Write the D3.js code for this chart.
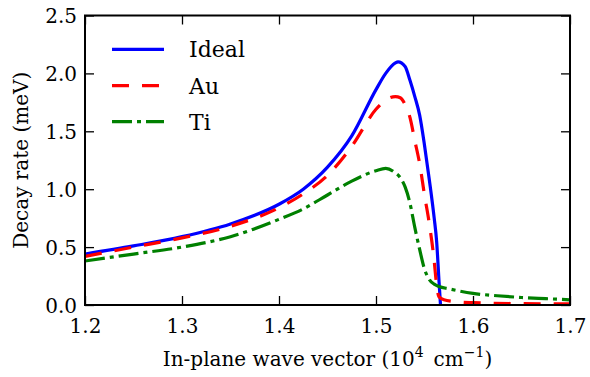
<!DOCTYPE html>
<html>
<head>
<meta charset="utf-8">
<script src="https://cdn.jsdelivr.net/npm/d3@7"></script>
<style>
  body { margin: 0; background: #fff; }
  svg { display: block; }
</style>
</head>
<body>
<svg id="chart" width="590" height="377"></svg>
<script>
// Decay rate vs in-plane wave vector for three metal cases
const idealK = [1.20, 1.25, 1.30, 1.35, 1.40, 1.425, 1.45, 1.475, 1.50, 1.51, 1.52, 1.5227, 1.53, 1.535, 1.54, 1.545, 1.55, 1.555, 1.56, 1.5625, 1.565, 1.5665];
const idealV = [0.44, 0.51, 0.59, 0.70, 0.87, 1.00, 1.19, 1.46, 1.86, 2.00, 2.09, 2.10, 2.06, 1.94, 1.80, 1.64, 1.38, 1.08, 0.75, 0.55, 0.20, 0.0];

const auK = [1.20, 1.25, 1.30, 1.35, 1.40, 1.425, 1.45, 1.475, 1.50, 1.51, 1.52, 1.525, 1.53, 1.535, 1.54, 1.545, 1.55, 1.555, 1.56, 1.5625, 1.565, 1.57, 1.58, 1.60, 1.65, 1.70];
const auV = [0.42, 0.50, 0.58, 0.68, 0.84, 0.96, 1.12, 1.37, 1.69, 1.77, 1.80, 1.79, 1.73, 1.62, 1.42, 1.22, 0.95, 0.70, 0.38, 0.17, 0.07, 0.045, 0.03, 0.02, 0.012, 0.01];

const tiK = [1.20, 1.25, 1.30, 1.35, 1.40, 1.425, 1.45, 1.475, 1.50, 1.51, 1.52, 1.525, 1.53, 1.535, 1.54, 1.545, 1.55, 1.555, 1.56, 1.565, 1.575, 1.60, 1.625, 1.65, 1.675, 1.70];
const tiV = [0.38, 0.44, 0.50, 0.59, 0.74, 0.83, 0.95, 1.07, 1.16, 1.18, 1.14, 1.10, 1.02, 0.88, 0.67, 0.48, 0.31, 0.22, 0.18, 0.16, 0.14, 0.10, 0.08, 0.065, 0.055, 0.045];

const seriesNames = ["Ideal", "Au", "Ti"];
const xTicks = [1.2, 1.3, 1.4, 1.5, 1.6, 1.7];
const yTicks = [0.0, 0.5, 1.0, 1.5, 2.0, 2.5];

const series = [
  { name: seriesNames[0], k: idealK, v: idealV, color: "#0000ff", dash: null },
  { name: seriesNames[1], k: auK, v: auV, color: "#ff0000", dash: "17,13" },
  { name: seriesNames[2], k: tiK, v: tiV, color: "#008000", dash: "20,5,4,5" }
];

const FONT = "'DejaVu Serif', 'Liberation Serif', serif";

const svg = d3.select("#chart");
const L = 85, R = 570, T = 15.5, B = 305;

const x = d3.scaleLinear().domain([1.2, 1.7]).range([L, R]);
const y = d3.scaleLinear().domain([0, 2.5]).range([B, T]);

svg.append("defs").append("clipPath").attr("id", "plotClip")
  .append("rect").attr("x", L).attr("y", T).attr("width", R - L).attr("height", B - T);

const line = d3.line()
  .x(d => x(d[0]))
  .y(d => y(d[1]))
  .curve(d3.curveMonotoneX);

const plot = svg.append("g").attr("clip-path", "url(#plotClip)");
series.forEach(s => {
  const pts = s.k.map((k, i) => [k, s.v[i]]);
  plot.append("path")
    .datum(pts)
    .attr("d", line)
    .attr("fill", "none")
    .attr("stroke", s.color)
    .attr("stroke-width", 3.2)
    .attr("stroke-dasharray", s.dash)
    .attr("stroke-linejoin", "round");
});

// Axes with inward ticks on all four sides
const tickLen = 9;
const fmt = d3.format(".1f");

const axBottom = svg.append("g").attr("transform", `translate(0,${B})`)
  .call(d3.axisBottom(x).tickValues(xTicks).tickFormat(fmt).tickSizeInner(-tickLen).tickSizeOuter(0).tickPadding(14));
const axTop = svg.append("g").attr("transform", `translate(0,${T})`)
  .call(d3.axisTop(x).tickValues(xTicks).tickFormat("").tickSizeInner(-tickLen).tickSizeOuter(0));
const axLeft = svg.append("g").attr("transform", `translate(${L},0)`)
  .call(d3.axisLeft(y).tickValues(yTicks).tickFormat(fmt).tickSizeInner(-tickLen).tickSizeOuter(0).tickPadding(8));
const axRight = svg.append("g").attr("transform", `translate(${R},0)`)
  .call(d3.axisRight(y).tickValues(yTicks).tickFormat("").tickSizeInner(-tickLen).tickSizeOuter(0));

[axBottom, axTop, axLeft, axRight].forEach(a => {
  a.attr("font-family", FONT);
  a.select(".domain").remove();
  a.selectAll(".tick line").attr("stroke", "#000").attr("stroke-width", 1.3);
  a.selectAll(".tick text").style("font-family", FONT).attr("font-size", 20).attr("fill", "#000");
});
axLeft.selectAll(".tick text").attr("dy", "0.36em");

// Frame
svg.append("rect")
  .attr("x", L).attr("y", T).attr("width", R - L).attr("height", B - T)
  .attr("fill", "none").attr("stroke", "#000").attr("stroke-width", 2);

// Axis labels
const xl = svg.append("text")
  .attr("x", (L + R) / 2).attr("y", 366)
  .attr("text-anchor", "middle").attr("font-size", 20).style("font-family", FONT);
xl.append("tspan").text("In-plane wave vector (10");
xl.append("tspan").attr("dy", -9).attr("font-size", 14).text("4");
xl.append("tspan").attr("dy", 9).text("\u2002cm");
xl.append("tspan").attr("dy", -9).attr("font-size", 14).text("\u22121");
xl.append("tspan").attr("dy", 9).text(")");

svg.append("text")
  .attr("transform", `translate(28,${(T + B) / 2}) rotate(-90)`)
  .attr("text-anchor", "middle").attr("font-size", 20).style("font-family", FONT)
  .text("Decay rate (meV)");

// Legend
const legY = [49.3, 85.7, 121.7];
series.forEach((s, i) => {
  svg.append("line")
    .attr("x1", 112).attr("x2", 164).attr("y1", legY[i]).attr("y2", legY[i])
    .attr("stroke", s.color).attr("stroke-width", 3.2)
    .attr("stroke-dasharray", s.dash);
  svg.append("text")
    .attr("x", 189).attr("y", legY[i]).attr("dy", "0.36em")
    .attr("font-size", 22).style("font-family", FONT).text(s.name);
});
</script>
</body>
</html>
